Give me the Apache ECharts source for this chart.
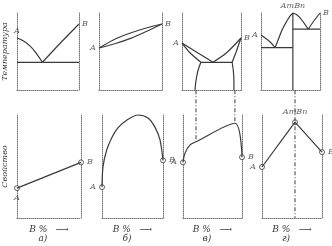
<!DOCTYPE html>
<html style="height: 100%">
<head>
  <meta charset="utf-8">
  <script src="https://cdn.jsdelivr.net/npm/echarts@6/dist/echarts.min.js"></script>
</head>
<body style="height: 100%; margin: 0; background: #fff">
  <div id="container" style="width: 332px; height: 246px"></div>
  <script type="text/javascript">
    // состав, В % (0..100) ; температура / свойство (0..100, условно)
    // а) механическая смесь, эвтектика
    var aLiqA = [[0, 67.5], [10, 64], [20, 58], [30, 49], [41, 36]];
    var aLiqB = [[41, 36], [70, 61], [100, 85.7]];
    var aEut = [[0, 36], [100, 36]];
    var aProp = [[0, 29], [100, 54]];
    // б) непрерывные твёрдые растворы
    var bLiq = [[0, 54.5], [25, 66], [50, 74], [75, 80.5], [100, 85.7]];
    var bSol = [[0, 54.5], [25, 60], [50, 67], [75, 76], [100, 85.7]];
    var bProp = [[0, 30], [1.6, 49.5], [7.7, 66], [16, 78], [26, 87.5], [40.5, 95], [59, 100],
      [75.4, 97], [87, 88], [95, 76], [100, 56]];
    // в) ограниченные твёрдые растворы
    var vLiqA = [[0, 61], [25, 49], [52.5, 36]];
    var vSolA = [[0, 61], [14, 48], [32, 36]];
    var vLiqB = [[52.5, 36], [75, 48], [100, 67.5]];
    var vSolB = [[85, 36], [92, 50], [100, 67.5]];
    var vEut = [[32, 36], [85, 36]];
    var vSolvA = [[32, 36], [27, 25], [23.7, 12], [22, 0]];
    var vSolvB = [[85, 36], [87, 25], [88, 12], [88, 0]];
    var vProp = [[0, 54], [3.4, 63], [12, 71], [22, 74], [88, 92], [100, 59]];
    var vDashA = [[22, 124], [22, 74]];
    var vDashB = [[88, 124], [88, 92]];
    // г) химическое соединение AmBn
    var gLiq1 = [[0, 71.4], [8, 67], [16, 62], [24, 55]];
    var gLiq2 = [[24, 55], [29, 65], [34, 75], [39, 83], [44, 90], [49, 96], [54, 100]];
    var gLiq3 = [[54, 100], [60, 98], [66, 94], [72, 88], [80, 79]];
    var gLiq4 = [[80, 79], [88, 88], [100, 100]];
    var gEut1 = [[0, 55], [54, 55]];
    var gEut2 = [[54, 79], [100, 79]];
    var gComp = [[54, 100], [54, 0]];
    var gProp = [[0, 49.5], [55, 93], [100, 64]];
    var gDash = [[55, 124], [55, 0]];

    var panelNames = ['а)', 'б)', 'в)', 'г)'];
    var xName = 'В %   ⟶';

    var ink = '#3a3a3a';
    var axisInk = '#777';
    var fontFam = 'DejaVu Serif';

    var dom = document.getElementById('container');
    var myChart = echarts.init(dom);

    // расположение восьми полей: верхний ряд - диаграммы состояния, нижний - состав-свойство
    var grids = [
      { left: 16, top: 13, width: 63, height: 77 },
      { left: 99, top: 13, width: 63, height: 77 },
      { left: 182, top: 13, width: 59, height: 77 },
      { left: 261, top: 13, width: 59, height: 77 },
      { left: 16, top: 115, width: 65, height: 103 },
      { left: 102, top: 115, width: 61, height: 103 },
      { left: 183, top: 115, width: 59, height: 103 },
      { left: 262, top: 115, width: 60, height: 103 }
    ];

    var xAxes = [], yAxes = [];
    grids.forEach(function (g, i) {
      var bottomRow = i >= 4;
      xAxes.push({
        gridIndex: i, type: 'value', min: 0, max: 100,
        axisLine: { show: true, lineStyle: { color: axisInk, width: 1, type: [1, 1] } },
        axisTick: { show: false }, axisLabel: { show: false }, splitLine: { show: false },
        name: bottomRow ? xName : '', nameLocation: 'middle', nameGap: 7,
        nameTextStyle: { color: ink, fontFamily: fontFam, fontStyle: 'italic', fontSize: 9 }
      });
      var yName = '';
      if (i == 0) yName = 'Температура';
      if (i == 4) yName = 'Свойство';
      yAxes.push({
        gridIndex: i, type: 'value', min: 0, max: 100,
        axisLine: { show: true, lineStyle: { color: axisInk, width: 1, type: [1, 1] } },
        axisTick: { show: false }, axisLabel: { show: false }, splitLine: { show: false },
        name: yName, nameLocation: 'middle', nameGap: 8, nameRotate: 90,
        nameTextStyle: { color: ink, fontFamily: fontFam, fontStyle: 'italic', fontSize: 8 }
      });
    });
    // правые стенки полей
    grids.forEach(function (g, i) {
      yAxes.push({
        gridIndex: i, type: 'value', min: 0, max: 100, position: 'right',
        axisLine: { show: true, onZero: false, lineStyle: { color: axisInk, width: 1, type: [1, 1] } },
        axisTick: { show: false }, axisLabel: { show: false }, splitLine: { show: false }
      });
    });

    var series = [];
    function curve(i, data, smooth, dashed) {
      series.push({
        type: 'line', xAxisIndex: i, yAxisIndex: i, data: data,
        symbol: 'none', smooth: smooth ? 0.3 : false,
        clip: false, silent: true, animation: false,
        lineStyle: { color: ink, width: dashed ? 1 : 1.2, type: dashed ? [4, 2, 1, 2] : 'solid' }
      });
    }
    // подписи и кружки на концах (А, В)
    function ends(i, pts, ring) {
      series.push({
        type: 'scatter', xAxisIndex: i, yAxisIndex: i, clip: false, silent: true, animation: false,
        symbol: 'circle', symbolSize: ring ? 5 : 0,
        itemStyle: { color: '#fff', borderColor: ink, borderWidth: 1 },
        data: pts.map(function (p) {
          return {
            value: [p[0], p[1]],
            label: {
              show: true, formatter: p[2], position: p[3], distance: 3,
              color: ink, fontFamily: fontFam, fontStyle: 'italic', fontSize: 8
            }
          };
        })
      });
    }

    // а)
    curve(0, aLiqA, true); curve(0, aLiqB, true); curve(0, aEut);
    ends(0, [[0, 67.5, 'А', 'top'], [100, 85.7, 'В', 'right']]);
    curve(4, aProp);
    ends(4, [[0, 29, 'А', 'bottom'], [100, 54, 'В', 'right']], true);
    // б)
    curve(1, bLiq, true); curve(1, bSol, true);
    ends(1, [[0, 54.5, 'А', 'left'], [100, 85.7, 'В', 'right']]);
    curve(5, bProp, true);
    ends(5, [[0, 30, 'А', 'left'], [100, 56, 'В', 'right']], true);
    // в)
    curve(2, vLiqA, true); curve(2, vSolA, true); curve(2, vLiqB, true); curve(2, vSolB, true);
    curve(2, vEut); curve(2, vSolvA, true); curve(2, vSolvB, true);
    ends(2, [[0, 61, 'А', 'left'], [100, 67.5, 'В', 'right']]);
    curve(6, vProp, true); curve(6, vDashA, false, true); curve(6, vDashB, false, true);
    ends(6, [[0, 54, 'А', 'left'], [100, 59, 'В', 'right']], true);
    // г)
    curve(3, gLiq1, true); curve(3, gLiq2); curve(3, gLiq3); curve(3, gLiq4, true);
    curve(3, gEut1); curve(3, gEut2); curve(3, gComp);
    ends(3, [[0, 71.4, 'А', 'left'], [100, 100, 'В', 'right'], [54, 100, 'АmВn', 'top']]);
    curve(7, gProp); curve(7, gDash, false, true);
    ends(7, [[0, 49.5, 'А', 'left'], [100, 64, 'В', 'right'], [55, 93, 'АmВn', 'top']], true);

    // буквы под полями
    var graphics = [];
    [4, 5, 6, 7].forEach(function (gi, k) {
      var g = grids[gi];
      graphics.push({
        type: 'text', left: g.left + g.width / 2 - 10, top: 234,
        style: { text: panelNames[k], fill: ink, font: 'italic 9px "DejaVu Serif"' }
      });
    });

    var option = {
      animation: false,
      grid: grids,
      xAxis: xAxes,
      yAxis: yAxes,
      series: series,
      graphic: graphics
    };
    myChart.setOption(option, true);
  </script>
</body>
</html>
